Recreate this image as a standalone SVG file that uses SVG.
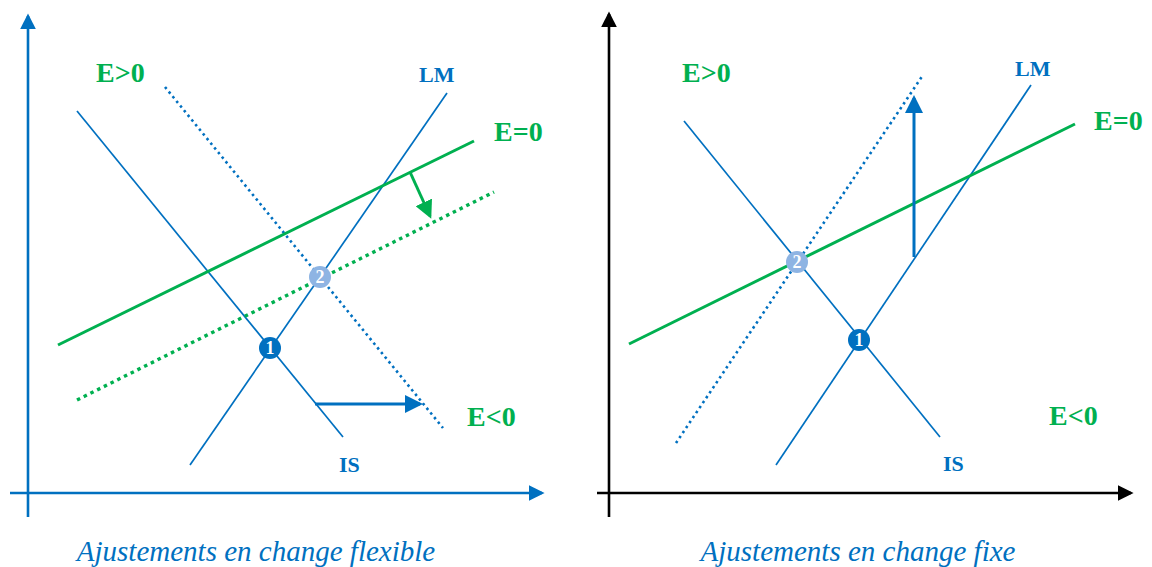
<svg xmlns="http://www.w3.org/2000/svg" width="1152" height="567" viewBox="0 0 1152 567">
<defs>
<marker id="ab" markerWidth="6" markerHeight="6" refX="5" refY="3" orient="auto" markerUnits="strokeWidth"><path d="M0,0 L6,3 L0,6 Z" fill="#0070C0"/></marker>
<marker id="ak" markerWidth="6" markerHeight="6" refX="5" refY="3" orient="auto" markerUnits="strokeWidth"><path d="M0,0 L6,3 L0,6 Z" fill="#000"/></marker>
<marker id="ag" markerWidth="6" markerHeight="6" refX="5" refY="3" orient="auto" markerUnits="strokeWidth"><path d="M0,0 L6,3 L0,6 Z" fill="#00B050"/></marker>
</defs>
<style>
.b{stroke:#0070C0;stroke-width:1.7;fill:none}
.bd{stroke:#0070C0;stroke-width:2.6;fill:none;stroke-dasharray:2.5 3.5}
.g{stroke:#00B050;stroke-width:3;fill:none}
.gd{stroke:#00B050;stroke-width:3.4;fill:none;stroke-dasharray:3.5 4}
.ax{stroke:#0070C0;stroke-width:2.6;fill:none}
.axk{stroke:#000;stroke-width:2.6;fill:none}
.lg{font-family:"Liberation Serif",serif;font-weight:bold;font-size:28px;fill:#00B050}
.lb{font-family:"Liberation Serif",serif;font-weight:bold;font-size:22px;fill:#0070C0}
.cap{font-family:"Liberation Serif",serif;font-style:italic;font-size:29px;fill:#0070C0}
.num{font-family:"Liberation Serif",serif;font-weight:bold;font-size:18px;fill:#fff;text-anchor:middle}
</style>
<g id="connectors">
<line class="ax" x1="28" y1="517" x2="28" y2="16" marker-end="url(#ab)"/>
<line class="ax" x1="10" y1="493" x2="542" y2="493" marker-end="url(#ab)"/>
<line class="b" x1="77" y1="111" x2="343" y2="437"/>
<line class="b" x1="190" y1="465" x2="447" y2="93"/>
<line class="bd" x1="165" y1="87" x2="443" y2="428"/>
<line class="g" x1="58" y1="345" x2="474" y2="141"/>
<line class="gd" x1="77" y1="400" x2="494" y2="192"/>
<line stroke="#00B050" stroke-width="3" x1="410" y1="172" x2="430" y2="216" marker-end="url(#ag)"/>
<line stroke="#0070C0" stroke-width="3" x1="315" y1="404" x2="420" y2="404" marker-end="url(#ab)"/>
<line class="axk" x1="609" y1="517" x2="609" y2="14" marker-end="url(#ak)"/>
<line class="axk" x1="597" y1="493" x2="1131" y2="493" marker-end="url(#ak)"/>
<line class="b" x1="684" y1="121" x2="940" y2="437"/>
<line class="b" x1="776" y1="465" x2="1031" y2="85"/>
<line class="bd" x1="676" y1="443" x2="923" y2="75"/>
<line class="g" x1="629" y1="344" x2="1075" y2="124"/>
<line stroke="#0070C0" stroke-width="3" x1="914" y1="257" x2="914" y2="98" marker-end="url(#ab)"/>
</g>
<g id="point1-left"><circle cx="270" cy="348" r="11" fill="#0070C0"/><text class="num" x="270" y="354">1</text></g>
<g id="point2-left"><circle cx="320" cy="277" r="11" fill="#8EB4E3"/><text class="num" x="320" y="283">2</text></g>
<g id="point1-right"><circle cx="859" cy="340" r="11" fill="#0070C0"/><text class="num" x="859" y="346">1</text></g>
<g id="point2-right"><circle cx="797" cy="262" r="11" fill="#8EB4E3"/><text class="num" x="797" y="268">2</text></g>
<g id="labels-left">
<text class="lg" x="96" y="82">E&gt;0</text>
<text class="lb" x="419" y="82">LM</text>
<text class="lg" x="494" y="141">E=0</text>
<text class="lg" x="467" y="426">E&lt;0</text>
<text class="lb" x="339" y="472">IS</text>
<text class="cap" x="256" y="561" text-anchor="middle">Ajustements en change flexible</text>
</g>
<g id="labels-right">
<text class="lg" x="682" y="82">E&gt;0</text>
<text class="lb" x="1015" y="76">LM</text>
<text class="lg" x="1094" y="130">E=0</text>
<text class="lg" x="1049" y="425">E&lt;0</text>
<text class="lb" x="943" y="471">IS</text>
<text class="cap" x="858" y="561" text-anchor="middle">Ajustements en change fixe</text>
</g>
</svg>
